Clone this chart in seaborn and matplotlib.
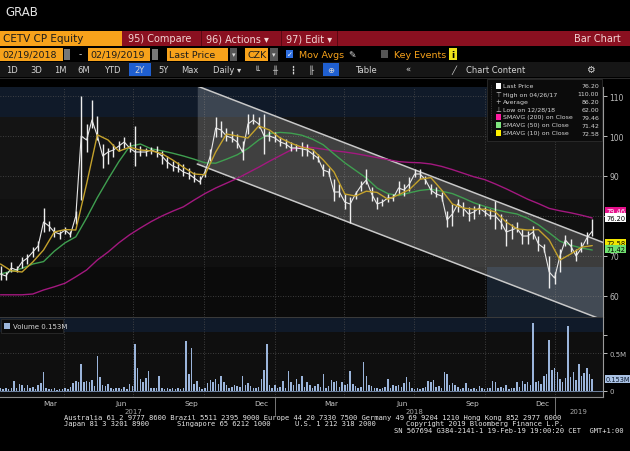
import pandas as pd
import matplotlib
matplotlib.use("Agg")
import matplotlib.pyplot as plt
from matplotlib.patches import Rectangle
import seaborn as sns

# weekly price bars, weeks starting 2017-01-09
close = [65.5, 65, 67, 66.5, 68.5, 69.5, 71, 72.5, 78.5, 77.5,
         76, 75.5, 76.5, 75.3, 80, 100, 99, 104, 100, 95,
         96, 96.5, 97.5, 98.5, 97, 96, 96, 96, 96.5, 96,
         95, 93.5, 92.5, 92, 91, 90.5, 89.5, 88.5, 91, 95,
         102, 101.5, 100, 99.5, 98.5, 96, 103, 104, 103, 100,
         100, 99.5, 98.5, 98, 97, 97, 96.8, 96.5, 95.5, 94.5,
         91.5, 91, 86, 86, 83.5, 83, 85.5, 87.5, 89, 85.5,
         83, 83.5, 84.5, 84.5, 87, 86.5, 88, 90.5, 90.5, 89,
         86.5, 85.5, 85, 79, 80.5, 83, 82, 80.5, 81, 82,
         81, 80, 80, 78.5, 76, 76.5, 77, 75, 75, 76,
         73, 72, 66, 64.5, 70, 74, 72.5, 70, 72, 74.5, 76.2]
high = [67.5, 66, 68.5, 67.6, 69.7, 70.5, 72.2, 73.8, 82, 78.8,
        77.2, 76.3, 77.2, 76.3, 81.3, 110, 103, 109, 105, 98,
        97, 98, 98.8, 99.7, 98.4, 102.6, 97.6, 97, 97.2, 97.6,
        96.3, 95, 93.8, 93.4, 93, 92, 91, 90, 91.8, 96.8,
        104.7, 103.8, 102, 101.3, 100.5, 98.8, 105.5, 105.5, 104.7, 105.5,
        101.3, 101, 99.7, 99.3, 98.4, 98, 98.6, 98, 96.8, 95.5,
        93, 92, 89.3, 88, 85.5, 84.7, 86.3, 88.8, 91.8, 87.2,
        84.7, 84.3, 85.5, 85.5, 88.8, 88, 89.7, 91.8, 91.8, 90,
        88, 87.2, 86, 81.3, 83, 84.3, 83.4, 82.2, 82.6, 83,
        82.2, 81.8, 83.8, 80.5, 79.3, 78, 78.4, 76.8, 76.3, 77.6,
        75, 73, 70, 66, 71.8, 75.2, 74.3, 71.8, 73.4, 75.9, 79.3]
low = [64, 64, 66, 66, 67, 68, 69.7, 71.3, 76, 76.3,
       74.7, 74.3, 75.5, 74.7, 78, 84, 96, 102, 99, 92,
       93, 94.7, 96.3, 97, 96, 92.6, 95, 95, 95.5, 94.7,
       93, 92, 91.3, 91, 90, 89.3, 88.4, 88, 89.7, 93.8,
       99.7, 99.7, 98.8, 98.4, 97, 94, 100.5, 103, 102, 95.5,
       98.8, 98.4, 97.6, 97, 96.3, 96.3, 95, 95, 94.3, 93.4,
       90, 90, 83.8, 84.7, 81.8, 78.2, 84.3, 86.3, 88, 83.8,
       81.8, 82.6, 83.4, 83.8, 85.5, 85, 86.3, 89.7, 89.3, 88,
       85.5, 84.7, 83.8, 77.2, 77.6, 80.9, 80, 78.8, 79.3, 80.5,
       80, 79.3, 76.8, 76.8, 72.6, 74.3, 76, 73, 73, 74.3,
       71.3, 71, 62, 63, 66, 72.6, 71, 68.8, 71, 73, 75]

# moving averages, every second week from 2017-01-09
sma200 = [60.3, 60.3, 60.3, 60.5, 61.5, 62.3, 63.2, 64.8, 66.5, 69,
          71, 73.3, 75.3, 77, 78.6, 80, 81.2, 82.3, 84, 85.6,
          87, 88.2, 89.4, 90.8, 92.2, 93.7, 95.1, 96.5, 97.3, 97.1,
          96.7, 96.3, 96, 95.6, 95.1, 94.6, 94.1, 93.6, 93.4, 93.3,
          93, 92.4, 91.6, 90.7, 89.8, 89.1, 88, 86.8, 85.5, 84.2,
          83.1, 81.9, 81.3, 80.8, 80.2, 79.5]
sma50 = [65.5, 66.2, 66.9, 68, 68.6, 71.2, 73.3, 74.8, 79.5, 84.6,
         89.2, 93.6, 97.4, 98, 96.8, 96.3, 95.7, 95, 94.2, 93.3,
         93.2, 94.2, 95.3, 96.9, 99, 100.6, 100.9, 100.7, 100.2, 99.2,
         97.8, 95.5, 93.3, 91.4, 89.5, 87, 85.6, 85.1, 85.8, 86.4,
         86.7, 86.2, 85.6, 84.5, 83.3, 82.4, 81.6, 81, 80.5, 79.4,
         77.8, 75.8, 73.7, 72.7, 72, 71.5]
sma10 = [68, 66.3, 66, 68.5, 71.5, 76, 76.6, 76.5, 88, 100.3,
         99, 96.2, 97.2, 96.5, 96.3, 95.6, 94, 92.2, 90.5, 90.3,
         96, 100.5, 100, 99.5, 102.5, 101.5, 99.5, 98.2, 97.2, 96.6,
         94, 91, 85.5, 85, 86.2, 85.9, 84.2, 85.3, 86.6, 89.2,
         89.6, 86.5, 83, 82, 81.7, 81.7, 81, 78.5, 76.8, 76.5,
         76.6, 74, 69, 70.5, 72.2, 72.6]

# volume in millions, twice a week from 2017-01-09
volume = [0.03, 0.02, 0.04, 0.02, 0.03, 0.13, 0.03, 0.09, 0.08, 0.04,
          0.07, 0.03, 0.05, 0.02, 0.07, 0.10, 0.25, 0.03, 0.02, 0.02,
          0.03, 0.01, 0.02, 0.02, 0.03, 0.02, 0.05, 0.10, 0.13, 0.12,
          0.36, 0.11, 0.13, 0.12, 0.14, 0.06, 0.47, 0.18, 0.08, 0.06,
          0.09, 0.03, 0.02, 0.03, 0.04, 0.02, 0.05, 0.02, 0.09, 0.06,
          0.62, 0.31, 0.15, 0.12, 0.17, 0.26, 0.03, 0.04, 0.03, 0.20,
          0.03, 0.02, 0.04, 0.02, 0.03, 0.02, 0.04, 0.02, 0.03, 0.67,
          0.22, 0.57, 0.09, 0.13, 0.05, 0.02, 0.03, 0.10, 0.14, 0.12,
          0.15, 0.09, 0.19, 0.11, 0.07, 0.03, 0.05, 0.08, 0.06, 0.05,
          0.20, 0.07, 0.10, 0.06, 0.04, 0.03, 0.05, 0.16, 0.28, 0.62,
          0.07, 0.04, 0.08, 0.03, 0.05, 0.13, 0.04, 0.26, 0.12, 0.07,
          0.15, 0.09, 0.19, 0.05, 0.11, 0.07, 0.04, 0.06, 0.09, 0.05,
          0.22, 0.04, 0.06, 0.14, 0.12, 0.13, 0.05, 0.11, 0.07, 0.09,
          0.27, 0.09, 0.06, 0.04, 0.05, 0.39, 0.19, 0.08, 0.06, 0.03,
          0.04, 0.02, 0.03, 0.05, 0.16, 0.04, 0.07, 0.06, 0.08, 0.05,
          0.10, 0.18, 0.12, 0.03, 0.02, 0.03, 0.02, 0.04, 0.05, 0.13,
          0.12, 0.14, 0.05, 0.06, 0.04, 0.25, 0.22, 0.08, 0.10, 0.07,
          0.05, 0.02, 0.03, 0.10, 0.03, 0.02, 0.04, 0.02, 0.06, 0.03,
          0.02, 0.04, 0.03, 0.13, 0.12, 0.03, 0.05, 0.04, 0.07, 0.02,
          0.03, 0.04, 0.11, 0.05, 0.13, 0.09, 0.12, 0.08, 0.90, 0.11,
          0.13, 0.09, 0.20, 0.22, 0.68, 0.28, 0.31, 0.25, 0.15, 0.11,
          0.17, 0.86, 0.18, 0.25, 0.14, 0.36, 0.20, 0.24, 0.31, 0.22,
          0.153]

# trend channel drawn on the chart
chan_dates = ["2017-09-22", "2019-03-04"]
chan_upper = [112.5, 73.4]
chan_lower = [93.0, 54.0]

month_labels = ["Mar", "Jun", "Sep", "Dec", "Mar", "Jun", "Sep", "Dec"]
month_dates = ["2017-03-15", "2017-06-15", "2017-09-15", "2017-12-15",
               "2018-03-15", "2018-06-15", "2018-09-15", "2018-12-15"]
year_labels = ["2017", "2018", "2019"]
year_dates = ["2017-07-01", "2018-07-01", "2019-01-31"]
legend_rows = [("Last Price", "76.20"), ("High on 04/26/17", "110.00"),
               ("Average", "86.20"), ("Low on 12/28/18", "62.00"),
               ("SMAVG (200) on Close", "79.46"), ("SMAVG (50) on Close", "71.42"),
               ("SMAVG (10) on Close", "72.58")]

wk = pd.date_range("2017-01-09", periods=len(close), freq="7D")
ma_dates = pd.date_range("2017-01-09", periods=len(sma200), freq="14D")
vol_dates = pd.date_range("2017-01-09", periods=len(volume), freq="84h")

W, H = 630, 452
ORANGE = "#f7a21b"
sns.set_style("dark")
plt.rcParams["font.family"] = ["DejaVu Sans"]

fig = plt.figure(figsize=(W / 100, H / 100), dpi=100, facecolor="black")


def fx(x):
    return x / W


def fy(y):
    return 1 - y / H


def box(x0, y0, x1, y1, color, z=0.5, **kw):
    fig.patches.append(Rectangle((fx(x0), fy(y1)), (x1 - x0) / W, (y1 - y0) / H,
                                 transform=fig.transFigure, facecolor=color,
                                 zorder=z, **kw))


def label(x, y, s, color="#d0d0d0", size=6, ha="left", **kw):
    fig.text(fx(x), fy(y), s, color=color, fontsize=size, ha=ha, va="center", **kw)


# header
label(5, 13, "GRAB", color="#e6e6e6", size=8.5)
box(0, 32, 122, 47, ORANGE, edgecolor="none")
label(3, 39.5, "CETV CP Equity", color="#1c1c1c", size=7.5)
box(122, 32, 630, 47, "#8a1020", edgecolor="none")
for sx in [201, 281, 337]:
    box(sx, 32, sx + 1, 47, "#5a0812", edgecolor="none")
for sx, s in [(128, "95) Compare"), (206, "96) Actions \u25be"), (286, "97) Edit \u25be")]:
    label(sx, 39.5, s, color="#f2d4d4", size=7)
label(621, 39.5, "Bar Chart", color="#f2d4d4", size=7, ha="right")

box(0, 48.5, 63, 61.5, ORANGE, edgecolor="none")
label(2, 55, "02/19/2018", color="#1c1c1c", size=6.8)
box(64, 49.5, 70, 60.5, "#777777", edgecolor="none")
label(79, 55, "-", color="#dddddd", size=6.5)
box(88, 48.5, 150, 61.5, ORANGE, edgecolor="none")
label(90, 55, "02/19/2019", color="#1c1c1c", size=6.8)
box(152, 49.5, 158, 60.5, "#777777", edgecolor="none")
box(167, 48.5, 228, 61.5, ORANGE, edgecolor="none")
label(169, 55, "Last Price", color="#1c1c1c", size=6.8)
box(230, 48.5, 237, 61.5, "#555555", edgecolor="none")
label(233.5, 55, "\u25be", color="#dddddd", size=5, ha="center")
box(245, 48.5, 268, 61.5, ORANGE, edgecolor="none")
label(247, 55, "CZK", color="#1c1c1c", size=6.8)
box(270, 48.5, 278, 61.5, "#555555", edgecolor="none")
label(274, 55, "\u25be", color="#dddddd", size=5, ha="center")
box(286, 51, 293, 59, "#2f6fe0", edgecolor="none")
label(289.5, 55, "\u2713", color="white", size=5, ha="center")
label(299, 55, "Mov Avgs", color=ORANGE, size=6.8)
label(348, 55, "\u270e", color="#dddddd", size=6.5)
box(381, 51, 388, 59, "#555555", edgecolor="none")
label(394, 55, "Key Events", color=ORANGE, size=6.8)
box(449, 49, 457, 61, "#efe21c", edgecolor="none")
label(453, 55, "i", color="black", size=6.5, ha="center", weight="bold")

box(0, 63, 630, 78, "#161616", edgecolor="none")
box(129, 64, 151, 77, "#1f5fd0", edgecolor="none")
box(323, 64, 339, 77, "#1f5fd0", edgecolor="none")
for sx, s in [(12, "1D"), (36, "3D"), (60, "1M"), (84, "6M"), (112, "YTD"),
              (140, "2Y"), (163, "5Y"), (190, "Max"), (227, "Daily \u25be"),
              (257, "\u2559"), (275, "\u256b"), (293, "\u2507"), (311, "\u255f"),
              (331, "\u2295"), (366, "Table"), (408, "\u00ab"), (454, "\u2571")]:
    label(sx, 70.5, s, color="#d4d4d4", size=6, ha="center")
label(466, 70.5, "Chart Content", color="#d4d4d4", size=6)
label(590, 70.5, "\u2699", color="#d4d4d4", size=7, ha="center")
box(0, 79, 630, 80, "#2a2a2a", edgecolor="none")

x_left, x_right = pd.Timestamp("2017-01-08 08:00"), pd.Timestamp("2019-03-04")
quarters = pd.date_range("2017-04-01", "2019-01-01", freq="QS")
grid_kw = dict(color="#4d4d4d", lw=0.6, ls=(0, (1, 2)), zorder=1)

# price panel
ax = fig.add_axes([0, fy(318), 603 / W, 230 / H])
ax.set_facecolor("#121212")
ax.set_xlim(x_left, x_right)
ax.set_ylim(54.75, 112.25)
ax.axhspan(104.75, 112.25, color="#101a29", lw=0, zorder=0)
ax.axhspan(84.25, 104.75, color="#141414", lw=0, zorder=0)
ax.axhspan(67.25, 84.25, color="#101010", lw=0, zorder=0)
ax.axhspan(54.75, 67.25, color="#0b0b0b", lw=0, zorder=0)
ax.axhspan(54.75, 67.25, xmin=487 / 603, color="#17212d", lw=0, zorder=0)
for v in range(60, 111, 10):
    ax.axhline(v, **grid_kw)
for q in quarters:
    ax.axvline(q, **grid_kw)

cd = pd.to_datetime(chan_dates)
ax.fill_between(cd, chan_lower, chan_upper, color="white", alpha=0.19, lw=0, zorder=2)
ax.plot(cd, chan_upper, color="#c8c8c8", lw=1.1, zorder=3)
ax.plot(cd, chan_lower, color="#c8c8c8", lw=1.1, zorder=3)

sns.lineplot(x=ma_dates, y=sma200, ax=ax, color="#a3187f", lw=1.0, zorder=4)
sns.lineplot(x=ma_dates, y=sma50, ax=ax, color="#3f9f50", lw=1.0, zorder=4)
ax.vlines(wk, low, high, color="#eeeeee", lw=1.0, zorder=5)
sns.lineplot(x=wk, y=close, ax=ax, color="#e8e8e8", lw=0.8, zorder=5)
sns.lineplot(x=ma_dates, y=sma10, ax=ax, color="#c4a22c", lw=1.0, zorder=6)

for side in ["top", "left", "bottom"]:
    ax.spines[side].set_visible(False)
ax.spines["right"].set_color("#9a9a9a")
ax.spines["right"].set_linewidth(0.8)
ax.yaxis.tick_right()
ax.set_yticks([60, 70, 80, 90, 100, 110])
ax.set_yticklabels(["60", "70", "", "90", "100", "110"])
ax.tick_params(axis="y", colors="#bdbdbd", labelsize=5.5, length=3, width=0.7, pad=1.5)
ax.set_xticks([])
ax.set_xlabel("")
ax.set_ylabel("")
ax.grid(False)

# value tags on the right axis
tag_kw = dict(xycoords=("axes fraction", "data"), fontsize=4.8, va="center",
              ha="left", annotation_clip=False, zorder=10)
for yv, txt, bg, fg in [(81.2, "79.46", "#e6108c", "white"), (79.6, "76.20", "white", "black"),
                        (73.3, "72.58", "#f2e600", "black"), (71.7, "71.42", "#6fe06f", "black")]:
    ax.annotate(txt, (1.005, yv), color=fg,
                bbox=dict(boxstyle="square,pad=0.18", fc=bg, ec="none"), **tag_kw)

# legend box
box(487, 80, 602, 142, "#0b0b0b", z=8, edgecolor="#2c2c2c", lw=0.6)
fig.lines.append(plt.Line2D([fx(491), fx(491)], [fy(86), fy(134)], transform=fig.transFigure,
                            color="#555555", lw=0.5, ls=(0, (1, 1.5)), zorder=9))
row_y = [87, 95, 102.5, 110, 118, 126, 134]
markers = [("sq", "white"), ("\u22a4", None), ("+", None), ("\u22a5", None),
           ("sq", "#ff1aa0"), ("sq", "#7ee57e"), ("sq", "#fff000")]
for yy, (name, val), (mk, mc) in zip(row_y, legend_rows, markers):
    if mk == "sq":
        box(495.5, yy - 2.6, 500.5, yy + 2.6, mc, z=9, edgecolor="none")
    else:
        label(498, yy, mk, color="#cccccc", size=4.8, ha="center", zorder=9)
    label(503, yy, name, color="#d6d6d6", size=4.5, zorder=9)
    label(599, yy, val, color="#d6d6d6", size=4.5, ha="right", zorder=9)

# volume panel
ax2 = fig.add_axes([0, fy(398), 603 / W, 80 / H])
ax2.set_facecolor("#0f0f0f")
ax2.set_xlim(x_left, x_right)
ax2.set_ylim(-0.084, 0.985)
ax2.axhspan(0.78, 0.985, color="#101a29", lw=0, zorder=0)
ax2.axhline(0.5, **grid_kw)
for q in quarters:
    ax2.axvline(q, **grid_kw)
ax2.bar(vol_dates, volume, width=2.0, color="#9bb5db", lw=0, zorder=3)
ax2.axhline(0, color="#7f95b8", lw=0.6, zorder=3)
for side in ["top", "left"]:
    ax2.spines[side].set_visible(False)
ax2.spines["right"].set_color("#9a9a9a")
ax2.spines["bottom"].set_color("#8a8a8a")
ax2.spines["right"].set_linewidth(0.8)
ax2.spines["bottom"].set_linewidth(0.8)
ax2.yaxis.tick_right()
ax2.set_yticks([0, 0.5, 0.75])
ax2.set_yticklabels(["0", "0.5M", ""])
ax2.tick_params(axis="y", colors="#bdbdbd", labelsize=5, length=3, width=0.7, pad=1.5)
ax2.set_xticks(pd.date_range("2017-02-01", "2019-03-01", freq="MS"))
ax2.set_xticklabels([])
ax2.tick_params(axis="x", colors="#8a8a8a", length=2, width=0.6)
ax2.set_xlabel("")
ax2.set_ylabel("")
ax2.grid(False)
ax2.annotate("0.153M", (1.005, 0.153), color="#0d1a2e",
             bbox=dict(boxstyle="square,pad=0.18", fc="#a9c1e3", ec="none"), **tag_kw)

xt = ax2.get_xaxis_transform()
for d, s in zip(month_dates, month_labels):
    ax2.text(pd.Timestamp(d), -0.08, s, transform=xt, color="#c4c4c4", fontsize=5.3,
             ha="center", va="center", clip_on=False)
for d, s in zip(year_dates, year_labels):
    ax2.text(pd.Timestamp(d), -0.18, s, transform=xt, color="#a8a8a8", fontsize=5,
             ha="center", va="center", clip_on=False)
for d in ["2018-01-01", "2019-01-01"]:
    ax2.plot([pd.Timestamp(d)] * 2, [0, -0.22], transform=xt, color="#8a8a8a",
             lw=0.6, clip_on=False)

box(1, 320, 63, 334, "#0b0b0b", z=8, edgecolor="#2c2c2c", lw=0.6)
box(4, 324, 10, 330, "#9bb5db", z=9, edgecolor="none")
label(13, 327, "Volume 0.153M", color="#d6d6d6", size=5, zorder=9)
box(0, 317.5, 603, 319, "#3a3a3a", z=8, edgecolor="none")

# footer
mono = dict(family="DejaVu Sans Mono", size=5.1, color="#e6e6e6")
fig.text(fx(64), fy(418), "Australia 61 2 9777 8600 Brazil 5511 2395 9000 Europe 44 20 7330 7500 "
         "Germany 49 69 9204 1210 Hong Kong 852 2977 6000", va="center", **mono)
for sx, s in [(64, "Japan 81 3 3201 8900"), (177, "Singapore 65 6212 1000"),
              (295, "U.S. 1 212 318 2000"), (406, "Copyright 2019 Bloomberg Finance L.P.")]:
    fig.text(fx(sx), fy(424), s, va="center", **mono)
fig.text(fx(624), fy(431), "SN 567694 G384-2141-1 19-Feb-19 19:00:20 CET  GMT+1:00",
         va="center", ha="right", **mono)

fig.savefig("out.png", dpi=100, facecolor="black")
